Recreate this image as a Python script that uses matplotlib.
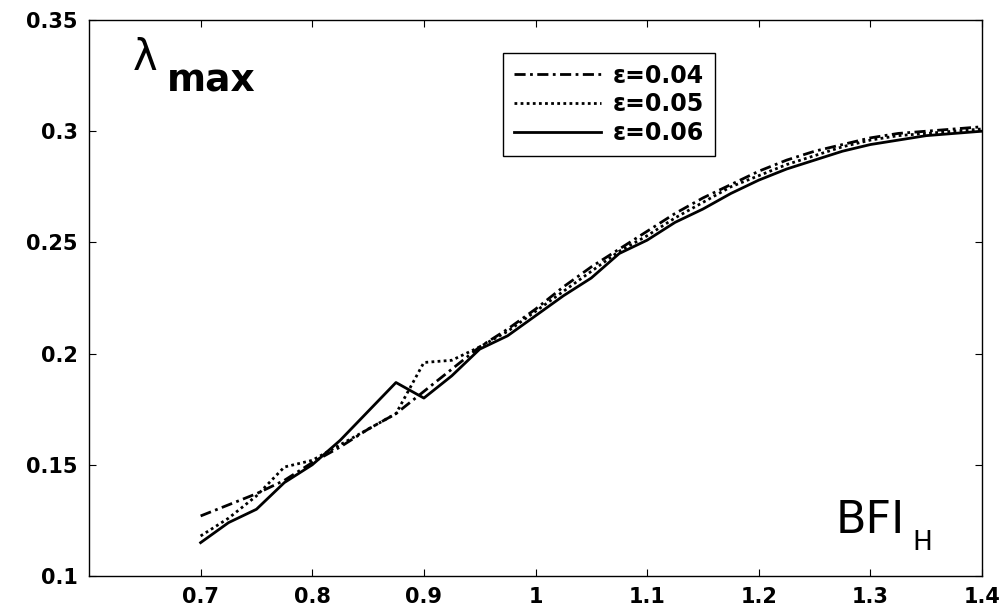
import matplotlib
matplotlib.use("Agg")
import matplotlib.pyplot as plt

# BFI_H sample points
bfi = [0.70, 0.725, 0.75, 0.775, 0.80, 0.825, 0.85, 0.875, 0.90, 0.925,
       0.95, 0.975, 1.00, 1.025, 1.05, 1.075, 1.10, 1.125, 1.15, 1.175,
       1.20, 1.225, 1.25, 1.275, 1.30, 1.325, 1.35, 1.375, 1.40]

# lambda_max for each epsilon
lam_004 = [0.127, 0.132, 0.137, 0.143, 0.151, 0.158, 0.166, 0.173, 0.183, 0.193,
           0.203, 0.211, 0.220, 0.230, 0.239, 0.247, 0.255, 0.263, 0.270, 0.276,
           0.282, 0.287, 0.291, 0.294, 0.297, 0.299, 0.300, 0.301, 0.302]
lam_005 = [0.118, 0.126, 0.136, 0.149, 0.152, 0.159, 0.166, 0.173, 0.196, 0.197,
           0.203, 0.210, 0.219, 0.228, 0.237, 0.246, 0.253, 0.261, 0.268, 0.275,
           0.280, 0.285, 0.289, 0.293, 0.296, 0.298, 0.299, 0.300, 0.301]
lam_006 = [0.115, 0.124, 0.130, 0.142, 0.150, 0.161, 0.174, 0.187, 0.180, 0.190,
           0.202, 0.208, 0.217, 0.226, 0.234, 0.245, 0.251, 0.259, 0.265, 0.272,
           0.278, 0.283, 0.287, 0.291, 0.294, 0.296, 0.298, 0.299, 0.300]

labels = ["\u03b5=0.04", "\u03b5=0.05", "\u03b5=0.06"]
xticks = [0.7, 0.8, 0.9, 1.0, 1.1, 1.2, 1.3, 1.4]
xtick_labels = ["0.7", "0.8", "0.9", "1", "1.1", "1.2", "1.3", "1.4"]
yticks = [0.1, 0.15, 0.2, 0.25, 0.3, 0.35]
ytick_labels = ["0.1", "0.15", "0.2", "0.25", "0.3", "0.35"]

plt.rcParams["font.family"] = ["DejaVu Sans"]

W, H = 1007, 608
fig = plt.figure(figsize=(W / 100, H / 100), dpi=100)
ax = fig.add_axes([89 / W, 1 - 576 / H, (982 - 89) / W, (576 - 20) / H])

lw = 2.0
ax.plot(bfi, lam_004, color="black", lw=lw, linestyle=(0, (4, 1.6, 1, 1.6)), label=labels[0])
ax.plot(bfi, lam_005, color="black", lw=lw, linestyle=(0, (1, 1.2)), label=labels[1])
ax.plot(bfi, lam_006, color="black", lw=lw, linestyle="-", label=labels[2])

ax.set_xlim(0.6, 1.4)
ax.set_ylim(0.1, 0.35)
ax.set_xticks(xticks)
ax.set_xticklabels(xtick_labels)
ax.set_yticks(yticks)
ax.set_yticklabels(ytick_labels)
ax.tick_params(direction="in", length=5, width=0.8, top=True, right=True,
               labelsize=15, pad=8)
for lab in ax.get_xticklabels() + ax.get_yticklabels():
    lab.set_fontweight("bold")
for sp in ax.spines.values():
    sp.set_linewidth(1.0)

leg = ax.legend(loc="upper left", bbox_to_anchor=((503 - 89) / 893, (576 - 53) / 556),
                borderaxespad=0, fancybox=False, framealpha=1, edgecolor="black",
                prop={"weight": "bold", "size": 17}, handlelength=3.7,
                handletextpad=0.5, labelspacing=0.2, borderpad=0.45)
leg.get_frame().set_linewidth(1.0)


def px(x, y):
    return x / W, 1 - y / H


# axis annotations inside the plot area
fig.text(*px(133, 70), "\u03bb", fontsize=30, va="baseline", ha="left")
fig.text(*px(167, 92), "max", fontsize=27, fontweight="bold", va="baseline", ha="left")
fig.text(*px(836, 533), "BFI", fontsize=32, va="baseline", ha="left")
fig.text(*px(912, 550), "H", fontsize=19, va="baseline", ha="left")

fig.savefig("out.png", dpi=100)
